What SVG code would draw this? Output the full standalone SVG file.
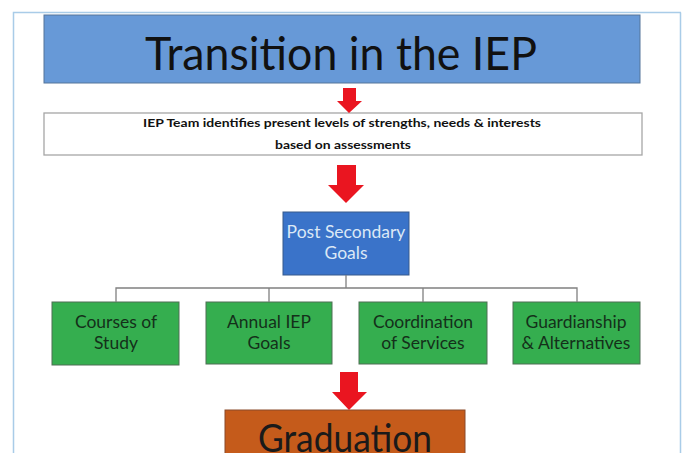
<svg xmlns="http://www.w3.org/2000/svg" width="682" height="453" viewBox="0 0 682 453">
<style>
  .t { font-family: Lato, "Open Sans", "Liberation Sans", sans-serif; text-anchor: middle; }
  .green rect { fill: #35ae4f; stroke: #4f6f55; stroke-width: 1; }
  .green text { fill: #14301a; font-size: 17.5px; }
  .arrow { fill: #ea1520; }
  .conn { stroke: #808080; stroke-width: 1.3; fill: none; }
</style>
<rect x="0" y="0" width="682" height="453" fill="#ffffff"/>
<path d="M13.5,453 V12.5 H681" fill="none" stroke="#a9cce8" stroke-width="1.5"/>
<path d="M680.5,12.5 V453" fill="none" stroke="#a9cce8" stroke-width="1.5"/>

<g id="title">
  <rect x="44" y="15" width="596" height="68" fill="#6799d7" stroke="#55749a" stroke-width="1"/>
  <text class="t" x="341" y="70" font-size="47" fill="#111111" textLength="392" lengthAdjust="spacingAndGlyphs">Transition in the IEP</text>
</g>

<g id="assessment">
  <rect x="44" y="113" width="598" height="42" fill="#ffffff" stroke="#a6a6a6" stroke-width="1.3"/>
  <text class="t" x="342" y="127" font-size="11.5" font-weight="bold" fill="#111111" textLength="398" lengthAdjust="spacingAndGlyphs">IEP Team identifies present levels of strengths, needs &amp; interests</text>
  <text class="t" x="343" y="148.5" font-size="11.5" font-weight="bold" fill="#111111" textLength="136" lengthAdjust="spacingAndGlyphs">based on assessments</text>
</g>

<g id="post-secondary-goals">
  <rect x="283" y="212" width="126" height="63" fill="#3a73c9" stroke="#365a8c" stroke-width="1"/>
  <text class="t" x="346" y="238" font-size="17.5" fill="#dbe8f6">Post Secondary</text>
  <text class="t" x="346" y="259" font-size="17.5" fill="#dbe8f6">Goals</text>
</g>

<g id="courses-of-study" class="green">
  <rect x="52" y="302" width="127" height="63"/>
  <text class="t" x="116" y="328">Courses of</text>
  <text class="t" x="116" y="349">Study</text>
</g>
<g id="annual-iep-goals" class="green">
  <rect x="206" y="302" width="126" height="62"/>
  <text class="t" x="269" y="328">Annual IEP</text>
  <text class="t" x="269" y="349">Goals</text>
</g>
<g id="coordination-of-services" class="green">
  <rect x="359" y="302" width="128" height="62"/>
  <text class="t" x="423" y="328">Coordination</text>
  <text class="t" x="423" y="349">of Services</text>
</g>
<g id="guardianship" class="green">
  <rect x="513" y="302" width="127" height="62"/>
  <text class="t" x="576" y="328">Guardianship</text>
  <text class="t" x="576" y="349">&amp; Alternatives</text>
</g>

<g id="graduation">
  <rect x="225" y="410" width="240" height="50" fill="#c55b1b" stroke="#8a4a2a" stroke-width="1"/>
  <text class="t" x="345" y="452" font-size="38" fill="#1a1a1a" textLength="174" lengthAdjust="spacingAndGlyphs">Graduation</text>
</g>

<g id="connectors">
  <polygon class="arrow" points="343,88 356,88 356,101 362,101 349,113 337,101 343,101"/>
  <polygon class="arrow" points="337,165 356,165 356,185 364,185 346,203 328,185 337,185"/>
  <polygon class="arrow" points="340,372 358,372 358,392 367,392 349,410 332,392 340,392"/>
  <path class="conn" d="M346,275 V288 M116,302 V288 H577 V302 M269,288 V302 M423,288 V302"/>
</g>
</svg>
